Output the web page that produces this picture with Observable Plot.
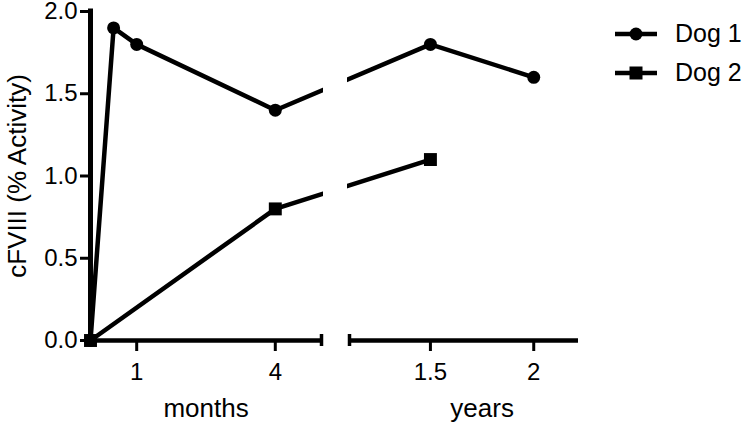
<!DOCTYPE html>
<html><head><meta charset="utf-8">
<script src="https://cdn.jsdelivr.net/npm/d3@7"></script>
<script src="https://cdn.jsdelivr.net/npm/@observablehq/plot@0.6"></script>
<style>
body{margin:0;background:#fff;font-family:"Liberation Sans",Arial,sans-serif;}
#wrap{position:relative;width:747px;height:424px;}
#legend{position:absolute;left:612px;top:14px;}
.row{display:flex;align-items:center;height:39px;font-size:25px;color:#000;white-space:nowrap;}
.row svg{margin-right:15px;display:block;}
</style></head><body><div id="wrap"><div id="legend"></div></div>
<script>
// ---- data ----
const seriesNames = ["Dog 1", "Dog 2"];
const timeMonths = [0, 0.5, 1, 4, 18, 24];      // 18 = 1.5 years, 24 = 2 years
const dog1 = [0, 1.9, 1.8, 1.4, 1.8, 1.6];
const dog2 = [0, null, null, 0.8, 1.1, null];
const xTicks = [1, 4, 18, 24];
const xTickLabels = ["1", "4", "1.5", "2"];
const yTicks = [0, 0.5, 1.0, 1.5, 2.0];
const segmentTitles = ["months", "years"];
const segments = [[0, 5], [13.3, 26.6]];        // broken axis pieces (in months)
const segmentTicks = [[1, 4], [18, 24]];
const yLabel = "cFVIII (% Activity)";

const rows = (vals, name) => timeMonths.map((t, i) => ({t, v: vals[i], series: name})).filter(d => d.v != null);
const d1 = rows(dog1, seriesNames[0]);
const d2 = rows(dog2, seriesNames[1]);
const gaps = [[segments[0][1], segments[1][0]]];

const chart = Plot.plot({
  width: 747, height: 424,
  marginLeft: 90, marginRight: 169, marginTop: 11, marginBottom: 84,
  style: {fontFamily: '"Liberation Sans", Arial, sans-serif', fontSize: "24px", color: "#000", background: "transparent"},
  x: {type: "linear", domain: [segments[0][0], segments[0][1], segments[1][0], segments[1][1]], range: [90, 321, 349, 578]},
  y: {domain: [yTicks[0], yTicks[yTicks.length - 1]]},
  marks: [
    Plot.line(d1, {x: "t", y: "v", stroke: "#000", strokeWidth: 4.5}),
    Plot.line(d2, {x: "t", y: "v", stroke: "#000", strokeWidth: 4.5}),
    Plot.rect(gaps, {x1: d => d[0], x2: d => d[1], fill: "white", insetLeft: 2, insetRight: 2}),
    Plot.dot(d1, {x: "t", y: "v", r: 6.5, fill: "#000", stroke: "none", symbol: "circle"}),
    Plot.dot(d2, {x: "t", y: "v", r: 7.3, fill: "#000", stroke: "none", symbol: "square"}),
    Plot.ruleY(segments, {y: () => 0, x1: d => d[0], x2: d => d[1], stroke: "#000", strokeWidth: 4.5}),
    Plot.ruleX(gaps.flat(), {x: d => d, y1: () => 0, y2: () => 0, insetTop: -6, insetBottom: -6, stroke: "#000", strokeWidth: 3.5}),
    Plot.ruleX([0], {x: d => d, y1: () => yTicks[0], y2: () => yTicks[yTicks.length - 1], stroke: "#000", strokeWidth: 5, strokeLinecap: "square"}),
    Plot.axisY({ticks: yTicks, tickFormat: d3.format(".1f"), tickSize: 10, tickPadding: 3, strokeWidth: 3, label: null, fontSize: 24}),
    Plot.axisX({ticks: xTicks, tickFormat: d => xTickLabels[xTicks.indexOf(d)], tickSize: 11, tickPadding: 11, strokeWidth: 3, label: null, fontSize: 24}),
    Plot.text(segmentTicks, {x: d => d3.mean(d), text: (d, i) => segmentTitles[i], frameAnchor: "bottom", lineAnchor: "middle", dy: 68, fontSize: 26}),
    Plot.text([yLabel], {text: d => d, frameAnchor: "left", textAnchor: "middle", lineAnchor: "middle", rotate: -90, dx: -73, fontSize: 26})
  ]
});
document.getElementById("wrap").prepend(chart);

// ---- legend ----
const legend = d3.select("#legend");
seriesNames.forEach((name, i) => {
  const row = legend.append("div").attr("class", "row");
  const svg = row.append("svg").attr("width", 48).attr("height", 18);
  svg.append("line").attr("x1", 3).attr("x2", 45).attr("y1", 9).attr("y2", 9).attr("stroke", "#000").attr("stroke-width", 4.5);
  if (i === 0) svg.append("circle").attr("cx", 24).attr("cy", 9).attr("r", 6.5);
  else svg.append("rect").attr("x", 17.5).attr("y", 2.5).attr("width", 13).attr("height", 13);
  row.append("span").text(name);
});
</script></body></html>
